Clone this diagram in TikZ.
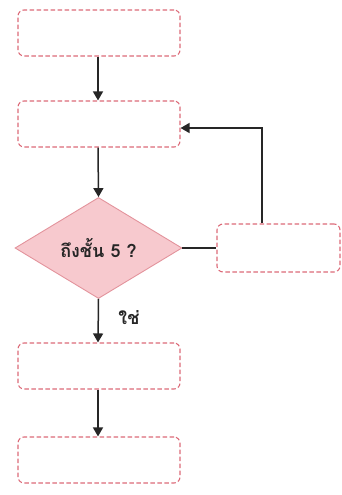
\documentclass[tikz,border=0pt]{standalone}
\usepackage{fontspec}
\newfontfamily\thaifont[Script=Thai]{Loma}
\usetikzlibrary{shapes.geometric,arrows.meta}
\definecolor{boxline}{HTML}{DC6A78}
\definecolor{diafill}{HTML}{F7C9CE}
\definecolor{dialine}{HTML}{E3939C}
\tikzset{
  stepbox/.style={draw=boxline, dash pattern=on 4.5pt off 2.5pt, line width=1.1pt, rounded corners=6pt, fill=white, minimum width=162pt, minimum height=46pt, inner sep=0pt},
  sidebox/.style={stepbox, minimum width=123pt, minimum height=48pt},
  decision/.style={diamond, draw=dialine, fill=diafill, line width=0.9pt, minimum width=167pt, minimum height=101pt, inner sep=0pt, aspect=1.65},
  conn/.style={line width=1.5pt, draw=black!85, -{Triangle[length=9pt,width=10pt]}},
  plain/.style={line width=1.5pt, draw=black!85},
  thaitext/.style={font=\thaifont\bfseries\fontsize{18}{20}\selectfont, text=black!85}
}
\begin{document}
\begin{tikzpicture}[x=1pt,y=-1pt]
\useasboundingbox (0,0) rectangle (342,495);
\node[stepbox] (b1) at (99,33) {};
\node[stepbox] (b2) at (99,124) {};
\node[decision] (d) at (98.5,248) {};
\node[thaitext] (q) at (d.center) {ถึงชั้น 5 ?};
\node[sidebox] (s) at (278.5,248) {};
\node[stepbox] (b3) at (99,366) {};
\node[stepbox] (b4) at (99,460) {};
\draw[conn] (b1.south -| 98,0) -- (b2.north -| 98,0);
\draw[conn] (b2.south -| 98,0) -- (d.north);
\draw[conn] (d.south) -- (b3.north -| 98,0);
\draw[conn] (b3.south -| 98,0) -- (b4.north -| 98,0);
\draw[plain] (d.east) -- (s.west);
\coordinate (c) at (262,128);
\draw[conn] (s.north -| c) -- (c) -- (c -| b2.east);
\node[thaitext] (yes) at (129,318) {ใช่};
\end{tikzpicture}
\end{document}
